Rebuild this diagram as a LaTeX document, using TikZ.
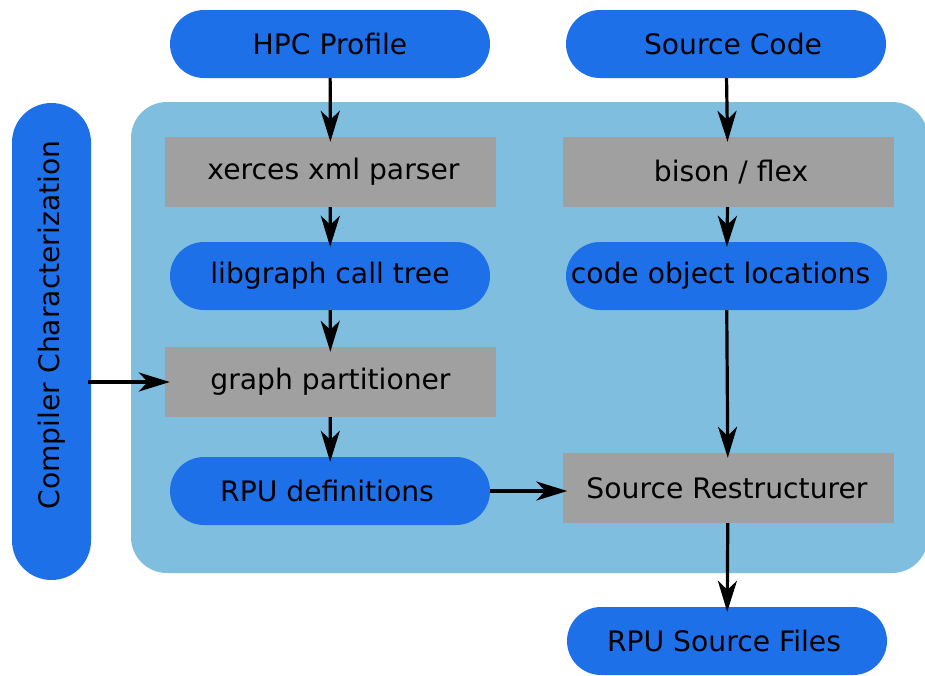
\documentclass[tikz,border=0pt]{standalone}
\usepackage{fontspec}
\setmainfont{DejaVu Sans}
\usetikzlibrary{arrows.meta}
\definecolor{pillblue}{RGB}{30,112,232}
\definecolor{panelblue}{RGB}{128,190,224}
\definecolor{boxgray}{RGB}{160,160,160}
\newcommand{\lpad}[1]{\hspace*{#1}}
\begin{document}
\begin{tikzpicture}[x=1pt,y=-1pt,
  every node/.style={font=\fontsize{28.2}{34}\selectfont, text=black, inner sep=0pt},
  pill/.style={fill=pillblue, rounded corners=34pt, minimum width=320pt, minimum height=68pt},
  graybox/.style={fill=boxgray, minimum width=331pt, minimum height=70pt},
  conn/.style={line width=3.2pt, -{Stealth[length=31pt,width=19pt,inset=9pt]}, shorten >=-5pt}
]
\useasboundingbox (0,0) rectangle (925,675);
\fill[white] (0,0) rectangle (925,675);
\fill[panelblue, rounded corners=36pt] (131,102) rectangle (928,573);

\node[pill] (hpc) at (330,44) {HPC Profile};
\node[pill] (src) at (726,44) {\lpad{14pt}Source Code};
\node[graybox] (xer) at (330.5,172) {\lpad{6pt}xerces xml parser};
\node[graybox] (bis) at (728,172) {\lpad{6pt}bison / flex};
\node[pill] (lib) at (330,276) {libgraph call tree};
\node[pill, minimum width=321pt] (cod) at (726.5,276) {code object locations\lpad{12pt}};
\node[graybox] (gp) at (330.5,382) {graph partitioner};
\node[pill] (rpu) at (330,491) {RPU definitions\lpad{6pt}};
\node[graybox] (sr) at (728,488) {Source Restructurer\lpad{2pt}};
\node[pill] (out) at (727,641) {RPU Source Files\lpad{6pt}};
\node[fill=pillblue, rotate=90, minimum width=477pt, minimum height=79pt, rounded corners=39.5pt] (cc) at (51.5,341.5) {};
\node[rotate=90] (cctext) at (51.5,325) {Compiler Characterization};

\draw[conn] (hpc) -- (xer);
\draw[conn] (xer) -- (lib);
\draw[conn] (lib) -- (gp);
\draw[conn] (gp) -- (rpu);
\draw[conn] (src) -- (bis);
\draw[conn] (bis) -- (cod);
\draw[conn] (cod) -- (sr);
\draw[conn] (rpu.east) -- (rpu.east -| sr.west);
\draw[conn] (sr) -- (out);
\draw[conn] ([xshift=-3pt]cc.south |- gp) -- (gp);
\end{tikzpicture}
\end{document}
